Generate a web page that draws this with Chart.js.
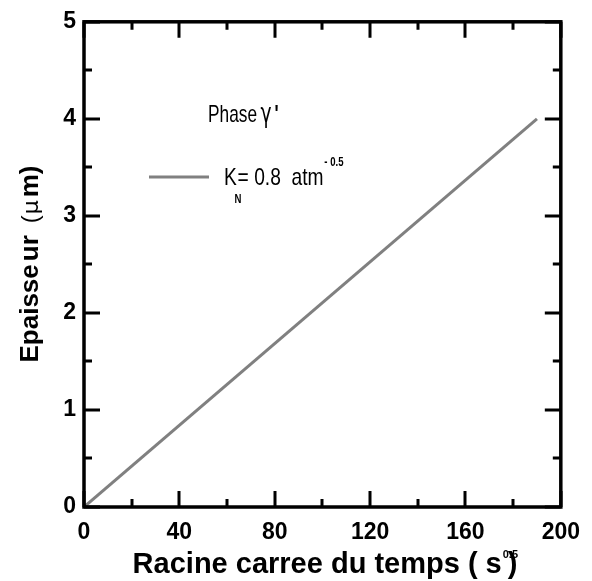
<!DOCTYPE html>
<html>
<head>
<meta charset="utf-8">
<script src="https://cdn.jsdelivr.net/npm/chart.js@4.4.1/dist/chart.umd.min.js"></script>
<style>
  html,body{margin:0;padding:0;background:#fff;}
  #c{display:block;}
</style>
</head>
<body>
<canvas id="c" width="592" height="581"></canvas>
<script>
// data
const xValues = [0, 190];
const yValues = [0, 4];
const xRange = [0, 200];
const yRange = [0, 5];
const seriesLabel = 'K_N = 0.8 atm^-0.5';
const xTitle = 'Racine carree du temps ( s';

const FONT = '"Liberation Sans", Arial, sans-serif';

function drawTicks(ctx, area, sx, sy){
  ctx.save();
  ctx.strokeStyle='#000'; ctx.lineWidth=3; ctx.lineCap='butt';
  const big=16, small=8;
  ctx.beginPath();
  for (const t of sx.ticks){
    const x=Math.round(sx.getPixelForValue(t.value));
    const len = (t.value%40===0) ? big : small;
    ctx.moveTo(x, area.bottom); ctx.lineTo(x, area.bottom-len);
    ctx.moveTo(x, area.top); ctx.lineTo(x, area.top+len);
  }
  for (const t of sy.ticks){
    const y=Math.round(sy.getPixelForValue(t.value));
    const len = Number.isInteger(t.value) ? big : small;
    ctx.moveTo(area.left, y); ctx.lineTo(area.left+len, y);
    ctx.moveTo(area.right, y); ctx.lineTo(area.right-len, y);
  }
  ctx.stroke();
  ctx.lineWidth=3.5;
  ctx.strokeRect(area.left, area.top, area.right-area.left, area.bottom-area.top);
  ctx.restore();
}

function drawTitles(ctx){
  ctx.save();
  ctx.fillStyle='#000';
  ctx.textBaseline='alphabetic';
  // x title
  ctx.font='bold 29px '+FONT;
  const w1=ctx.measureText(xTitle).width;
  const w2=ctx.measureText(')').width;
  const total=w1+6+w2;
  let x0=325-total/2;
  ctx.textAlign='left';
  ctx.fillText(xTitle, x0, 573);
  ctx.font='bold 11px '+FONT;
  ctx.fillText('0.5', x0+w1+1, 558);
  ctx.font='bold 29px '+FONT;
  ctx.fillText(')', x0+w1+6, 573);

  // y title (rotated)
  ctx.translate(38, 264);
  ctx.rotate(-Math.PI/2);
  const segs=[
    {t:'Epaisse', f:'bold 26px '+FONT, gap:3},
    {t:'ur', f:'bold 26px '+FONT, gap:12},
    {t:'(', f:'24px '+FONT, gap:1},
    {t:'µ', f:'22px "DejaVu Sans", sans-serif', gap:3},
    {t:'m)', f:'bold 26px '+FONT, gap:0}
  ];
  let len=0;
  for (const s of segs){ ctx.font=s.f; s.w=ctx.measureText(s.t).width; len+=s.w+s.gap; }
  let p=-len/2;
  for (const s of segs){ ctx.font=s.f; ctx.fillText(s.t, p, 0); p+=s.w+s.gap; }
  ctx.restore();
}

function drawLegend(ctx, color){
  ctx.save();
  ctx.fillStyle='#000';
  // title
  ctx.save();
  ctx.translate(208, 122);
  ctx.scale(0.72, 1);
  ctx.font='24px '+FONT;
  ctx.fillText('Phase', 0, 0);
  const wp=ctx.measureText('Phase').width;
  ctx.font='26px "DejaVu Sans", sans-serif';
  ctx.fillText('γ', wp+5, 0);
  const wg=ctx.measureText('γ').width;
  ctx.font='bold 24px '+FONT;
  ctx.fillText('\'', wp+5+wg+4, 0);
  ctx.restore();

  // sample line
  ctx.strokeStyle=color; ctx.lineWidth=3;
  ctx.beginPath(); ctx.moveTo(149,177); ctx.lineTo(209,177); ctx.stroke();

  ctx.save();
  ctx.translate(224, 185);
  ctx.scale(0.8, 1);
  ctx.font='24px '+FONT;
  ctx.fillText('K', 0, 0);
  const wk=ctx.measureText('K').width;
  ctx.fillText('= 0.8  atm', wk+1, 0);
  const wr=ctx.measureText('= 0.8  atm').width;
  ctx.font='bold 12px '+FONT;
  ctx.fillText('N', wk-3, 18);
  ctx.fillText('- 0.5', wk+wr+2, -19);
  ctx.restore();
  ctx.restore();
}

const framePlugin = {
  id:'frame',
  afterDatasetsDraw(chart){
    const {ctx, chartArea, scales} = chart;
    drawTicks(ctx, chartArea, scales.x, scales.y);
    drawTitles(ctx);
    drawLegend(ctx, '#808080');
  }
};

new Chart(document.getElementById('c'), {
  type:'scatter',
  data:{
    datasets:[{
      label: seriesLabel,
      data: xValues.map((x,i)=>({x, y:yValues[i]})),
      showLine:true,
      borderColor:'#808080',
      borderWidth:3,
      pointRadius:0,
      pointHoverRadius:0,
      fill:false
    }]
  },
  options:{
    responsive:false,
    devicePixelRatio:1,
    animation:false,
    layout:{padding:{top:20, right:21, left:0, bottom:0}},
    plugins:{legend:{display:false}, tooltip:{enabled:false}},
    scales:{
      x:{
        type:'linear', min:xRange[0], max:xRange[1],
        border:{display:false},
        grid:{display:false, drawTicks:false},
        afterFit(s){ s.height=74; },
        ticks:{
          stepSize:20, autoSkip:false, maxRotation:0, padding:12,
          color:'#000', font:{family:FONT, size:23, weight:'bold'},
          callback:v=> v%40===0 ? String(v) : ''
        }
      },
      y:{
        type:'linear', min:yRange[0], max:yRange[1],
        border:{display:false},
        grid:{display:false, drawTicks:false},
        afterFit(s){ s.width=84; },
        ticks:{
          stepSize:0.5, autoSkip:false, padding:8,
          color:'#000', font:{family:FONT, size:23, weight:'bold'},
          callback:v=> Number.isInteger(v) ? String(v) : ''
        }
      }
    }
  },
  plugins:[framePlugin]
});
</script>
</body>
</html>
